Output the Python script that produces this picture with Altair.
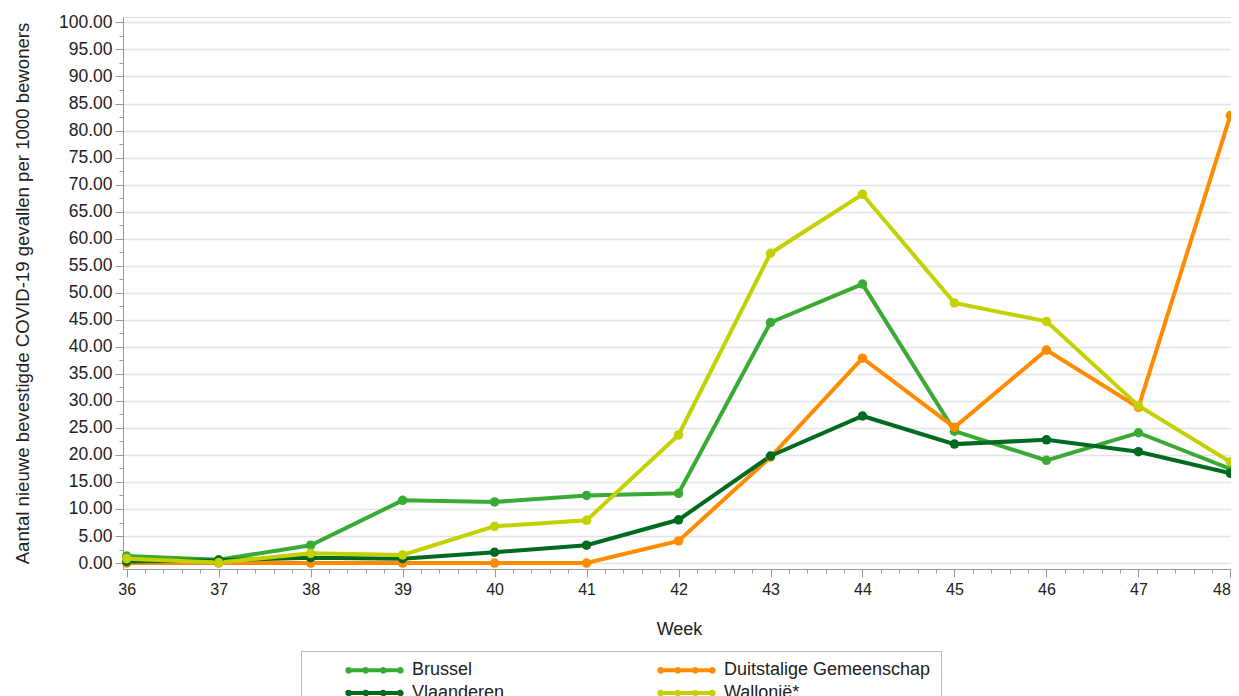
import altair as alt
import pandas as pd

weeks = [36, 37, 38, 39, 40, 41, 42, 43, 44, 45, 46, 47, 48]
brussel = [1.3, 0.6, 3.3, 11.6, 11.3, 12.5, 12.9, 44.5, 51.6, 24.4, 19.0, 24.1, 17.4]
duitstalig = [0.0, 0.0, 0.0, 0.0, 0.0, 0.0, 4.1, 19.6, 37.9, 25.1, 39.4, 28.8, 82.8]
vlaanderen = [0.3, 0.5, 1.0, 0.8, 2.0, 3.3, 8.0, 19.8, 27.2, 22.0, 22.8, 20.6, 16.6]
wallonie = [0.8, 0.1, 1.8, 1.5, 6.8, 7.9, 23.7, 57.3, 68.2, 48.1, 44.7, 29.1, 18.7]

series_names = ["Brussel", "Duitstalige Gemeenschap", "Vlaanderen", "Wallonië*"]
series_vals = [brussel, duitstalig, vlaanderen, wallonie]
colors = ["#3aaa35", "#ff8c00", "#006a20", "#c3d100"]

rows = []
for name, vals in zip(series_names, series_vals):
    for w, v in zip(weeks, vals):
        rows.append({"Week": w, "Waarde": v, "Regio": name})
df = pd.DataFrame(rows)

x_ticks = [round(36 + 0.2 * i, 1) for i in range(61)]
y_ticks = [2.5 * i for i in range(41)]

font = "Liberation Sans"


def dot(cx, r=0.18):
    return f"M{cx - r},0A{r},{r},0,1,0,{cx + r},0A{r},{r},0,1,0,{cx - r},0Z"


legend_symbol = "M-4.07,0L4.07,0" + dot(-3.7) + dot(-1.25) + dot(1.25) + dot(3.7)

x = alt.X(
    "Week:Q",
    scale=alt.Scale(domain=[35.96, 48.05], nice=False, zero=False),
    axis=alt.Axis(
        values=x_ticks,
        labelExpr="datum.value % 1 === 0 ? format(datum.value, 'd') : ''",
        labelAlign={"condition": {"test": "datum.value === 48", "value": "right"}, "value": "center"},
        grid=False,
        tickSize={"condition": {"test": "datum.value % 1 === 0", "value": 8}, "value": 4},
        tickColor="#999999",
        domainColor="#999999",
        labelFontSize=16,
        labelColor="#222222",
        labelPadding=4,
        titleFontSize=18,
        titleFontWeight="normal",
        titleColor="#222222",
        titlePadding=23,
        labelFont=font,
        titleFont=font,
        labelFlush=False,
        labelOverlap=False,
    ),
)
y = alt.Y(
    "Waarde:Q",
    title="Aantal nieuwe bevestigde COVID-19 gevallen per 1000 bewoners",
    scale=alt.Scale(domain=[-1.1, 101], nice=False, zero=False),
    axis=alt.Axis(
        values=y_ticks,
        labelExpr="datum.value % 5 === 0 ? format(datum.value, '.2f') : ''",
        grid=True,
        gridColor="#e3e3e3",
        gridWidth=1.5,
        gridOpacity={"condition": {"test": "datum.value % 5 === 0", "value": 1}, "value": 0},
        tickSize={"condition": {"test": "datum.value % 5 === 0", "value": 8}, "value": 4},
        tickColor="#999999",
        domainColor="#999999",
        labelFontSize=17.5,
        labelColor="#222222",
        labelPadding=3,
        labelFont=font,
        titleFont=font,
        titleFontSize=18.6,
        titleFontWeight="normal",
        titleColor="#222222",
        titlePadding=26,
        labelOverlap=False,
        labelFlush=False,
    ),
)
color = alt.Color(
    "Regio:N",
    scale=alt.Scale(domain=series_names, range=colors),
    legend=alt.Legend(
        title=None,
        orient="none",
        legendX=178,
        legendY=634,
        columns=2,
        direction="horizontal",
        symbolType=legend_symbol,
        symbolSize=196,
        symbolStrokeWidth=4,
        symbolOffset=54.5,
        labelOffset=28.5,
        columnPadding=118,
        rowPadding=3,
        labelFontSize=18,
        labelFont=font,
        labelColor="#222222",
        labelLimit=400,
        strokeColor="#bbbbbb",
        padding=10,
    ),
)

base = alt.Chart(df).encode(x=x, y=y, color=color)
lines = base.mark_line(strokeWidth=4)
points = base.mark_circle(size=90, opacity=1)

chart = (
    alt.layer(lines, points)
    .properties(width=1112, height=552)
    .configure_view(stroke="#d0d0d0")
    .configure(padding={"left": 5, "top": 5, "right": -8, "bottom": 5})
)

chart.save("out.html", embed_options={"renderer": "svg", "actions": False})
